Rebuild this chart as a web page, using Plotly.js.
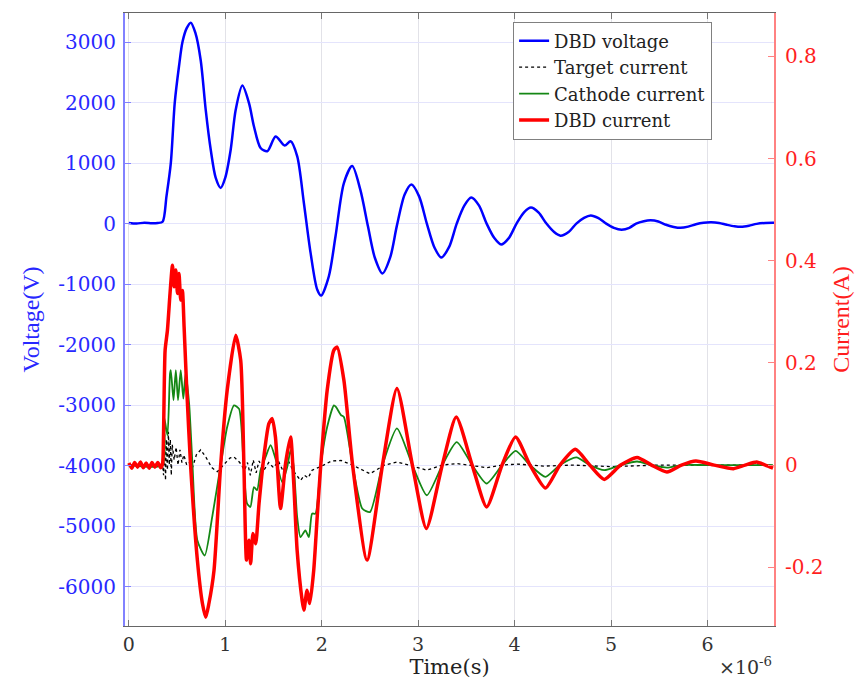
<!DOCTYPE html>
<html>
<head>
<meta charset="utf-8">
<script src="https://cdn.plot.ly/plotly-3.0.1.min.js"></script>
<style>html,body{margin:0;padding:0;background:#fff;}#chart{width:860px;height:679px;}</style>
</head>
<body>
<div id="chart"></div>
<script>
// Time in microseconds (axis shows ×10^-6 s)
const voltage_t = [0,0.08,0.16,0.24,0.3,0.35,0.39,0.435,0.476,0.52,0.556,0.6,0.642,0.69,0.745,0.797,0.849,0.9,0.952,1.0,1.056,1.108,1.177,1.246,1.298,1.366,1.435,1.522,1.615,1.677,1.746,1.815,1.884,1.953,1.994,2.074,2.143,2.23,2.316,2.4,2.48,2.55,2.63,2.71,2.78,2.86,2.93,3.01,3.09,3.17,3.24,3.32,3.40,3.48,3.55,3.63,3.71,3.79,3.86,3.94,4.02,4.10,4.17,4.25,4.33,4.41,4.475,4.56,4.64,4.72,4.79,4.87,4.95,5.03,5.11,5.19,5.26,5.34,5.41,5.49,5.57,5.65,5.72,5.80,5.88,5.96,6.04,6.12,6.20,6.28,6.35,6.43,6.51,6.60,6.69];
const voltage_V = [10,0,15,5,10,30,450,1000,2000,2600,3000,3230,3320,3150,2700,1880,1220,760,590,760,1220,1880,2280,1990,1600,1250,1195,1440,1290,1360,1110,340,-480,-1090,-1190,-870,-210,670,950,560,-50,-560,-825,-560,-30,480,645,450,0,-400,-560,-390,0,300,430,300,0,-240,-345,-240,0,190,265,180,0,-140,-200,-140,0,95,135,90,0,-70,-100,-70,0,40,55,35,-20,-55,-70,-50,-10,15,22,10,-20,-45,-54,-35,-5,10,12];

const target_t = [0,0.2,0.35,0.36,0.37,0.38,0.39,0.40,0.41,0.42,0.43,0.44,0.45,0.47,0.49,0.51,0.53,0.55,0.57,0.6,0.63,0.66,0.7,0.745,0.8,0.86,0.917,0.98,1.05,1.09,1.15,1.2,1.23,1.26,1.29,1.32,1.35,1.4,1.45,1.5,1.55,1.6,1.65,1.7,1.74,1.78,1.82,1.86,1.9,2.0,2.1,2.2,2.32,2.5,2.65,2.78,2.94,3.09,3.25,3.4,3.56,3.71,3.87,4.03,4.3,4.6,5.0,5.5,6.0,6.69];
const target_A = [0,0,0,-0.02,0.06,-0.03,0.05,-0.01,0.065,0.0,0.05,-0.02,0.04,0.01,0.035,0.0,0.03,0.005,0.02,0.0,0.005,-0.005,0.02,0.03,0.015,-0.005,-0.013,0.0,0.014,0.016,0.005,-0.01,0.005,-0.02,0.01,-0.015,0.008,-0.01,0.005,-0.005,0.008,-0.012,0.01,-0.01,-0.02,-0.03,-0.02,-0.025,-0.01,-0.002,0.008,0.009,0,-0.017,0,0.006,-0.002,-0.01,0,0.003,-0.001,-0.005,0,0.002,-0.002,0,-0.003,0,0,0];

const cathode_t = [0,0.349,0.366,0.40,0.427,0.435,0.463,0.487,0.51,0.538,0.565,0.588,0.625,0.66,0.71,0.787,0.865,0.952,1.02,1.09,1.143,1.19,1.225,1.26,1.297,1.33,1.366,1.418,1.47,1.52,1.59,1.642,1.677,1.71,1.745,1.78,1.83,1.867,1.90,1.935,1.99,2.057,2.126,2.147,2.2,2.23,2.32,2.42,2.5,2.63,2.78,2.94,3.09,3.25,3.40,3.56,3.71,3.87,4.01,4.16,4.32,4.47,4.64,4.78,4.93,5.10,5.27,5.42,5.58,5.73,6.0,6.68];
const cathode_A = [0,0,0.094,0.058,0.179,0.186,0.127,0.186,0.127,0.186,0.13,0.179,0.12,0,-0.147,-0.177,-0.101,0,0.075,0.117,0.11,0,-0.075,-0.082,-0.043,-0.049,-0.01,0.016,0.039,0.013,-0.033,-0.004,0.029,-0.004,-0.101,-0.141,-0.128,-0.141,-0.095,-0.095,0,0.075,0.117,0.114,0.098,0.094,0,-0.085,-0.092,0,0.072,0,-0.059,0,0.045,0,-0.036,0,0.028,0,-0.023,0,0.015,0,-0.01,0,0.007,0,-0.005,0,0,0];

const dbd_t = [0,0.03,0.06,0.09,0.12,0.15,0.18,0.21,0.24,0.27,0.30,0.33,0.349,0.359,0.376,0.40,0.427,0.452,0.469,0.487,0.504,0.52,0.538,0.555,0.573,0.60,0.64,0.711,0.763,0.797,0.83,0.883,0.952,1.02,1.108,1.16,1.193,1.22,1.246,1.263,1.287,1.315,1.35,1.40,1.452,1.487,1.52,1.573,1.625,1.677,1.71,1.745,1.797,1.815,1.848,1.876,1.917,1.953,1.99,2.057,2.126,2.16,2.23,2.32,2.47,2.63,2.78,2.94,3.085,3.25,3.395,3.56,3.71,3.87,4.01,4.16,4.32,4.47,4.63,4.78,4.93,5.10,5.27,5.42,5.58,5.73,5.88,6.07,6.27,6.39,6.51,6.60,6.68];
const dbd_A = [0.004,-0.006,0.005,-0.004,0.006,-0.005,0.004,-0.006,0.005,-0.004,0.005,-0.005,0.002,0.055,0.225,0.264,0.336,0.391,0.349,0.382,0.336,0.375,0.323,0.342,0.27,0.15,0.0,-0.187,-0.271,-0.298,-0.271,-0.206,0,0.147,0.254,0.205,0.0,-0.186,-0.147,-0.193,-0.134,-0.154,-0.075,0.016,0.081,0.091,0.055,-0.085,0.003,0.055,-0.036,-0.167,-0.265,-0.284,-0.245,-0.271,-0.206,-0.102,0,0.147,0.225,0.231,0.166,0,-0.186,0,0.150,0,-0.124,0,0.094,0,-0.082,0,0.055,0,-0.045,0,0.031,0.0,-0.028,0,0.015,0,-0.0135,0,0.008,0,-0.007,0,0.006,0,-0.006];

const xTickVals = [0,1,2,3,4,5,6];
const xTickText = ["0","1","2","3","4","5","6"];
const vTickVals = [-6000,-5000,-4000,-3000,-2000,-1000,0,1000,2000,3000];
const vTickText = ["-6000","-5000","-4000","-3000","-2000","-1000","0","1000","2000","3000"];
const iTickVals = [-0.2,0,0.2,0.4,0.6,0.8];
const iTickText = ["-0.2","0","0.2","0.4","0.6","0.8"];

const BLUE = 'rgb(40,40,255)';
const RED = 'rgb(255,30,30)';
const tickFont = 'DejaVu Serif';
const titleFont = 'Liberation Serif';

const traces = [
  {x: voltage_t, y: voltage_V, name: 'DBD voltage', type: 'scatter', mode: 'lines', yaxis: 'y',
   line: {color: '#0000ff', width: 2.5, shape: 'spline', smoothing: 0.8}},
  {x: target_t, y: target_A, name: 'Target current', type: 'scatter', mode: 'lines', yaxis: 'y2',
   line: {color: '#000000', width: 1.3, dash: 'dot'}},
  {x: cathode_t, y: cathode_A, name: 'Cathode current', type: 'scatter', mode: 'lines', yaxis: 'y2',
   line: {color: 'rgb(20,135,20)', width: 1.8, shape: 'spline', smoothing: 0.6}},
  {x: dbd_t, y: dbd_A, name: 'DBD current', type: 'scatter', mode: 'lines', yaxis: 'y2',
   line: {color: '#ff0000', width: 3.5, shape: 'spline', smoothing: 0.6}}
];

const layout = {
  width: 860, height: 679,
  margin: {l: 125, r: 86, t: 13, b: 53},
  paper_bgcolor: '#ffffff', plot_bgcolor: '#ffffff',
  showlegend: true,
  legend: {x: 0.598, y: 0.986, xanchor: 'left', yanchor: 'top', bgcolor: '#ffffff',
           bordercolor: '#808080', borderwidth: 1,
           font: {family: tickFont, size: 18, color: '#222'}},
  xaxis: {range: [-0.04, 6.69], tickvals: xTickVals, ticktext: xTickText,
          ticks: 'inside', ticklen: 6, tickcolor: '#777', showline: true, linecolor: '#666', linewidth: 1.2,
          mirror: 'ticks', showgrid: true, gridcolor: 'rgb(226,226,232)', zeroline: false,
          tickfont: {family: tickFont, size: 19, color: '#333'}, ticklabelstandoff: 1,
          title: {text: 'Time(s)', font: {family: tickFont, size: 21, color: '#222'}, standoff: 2}},
  yaxis: {range: [-6650, 3480], tickvals: vTickVals, ticktext: vTickText,
          ticks: 'inside', ticklen: 6, tickcolor: 'rgb(130,130,255)', showline: true,
          linecolor: 'rgb(130,130,255)', linewidth: 2, showgrid: true, gridcolor: 'rgb(228,228,252)', zeroline: false,
          tickfont: {family: tickFont, size: 20, color: BLUE}, ticklabelstandoff: 3,
          title: {text: 'Voltage(V)', font: {family: titleFont, size: 24, color: BLUE}, standoff: 12}},
  yaxis2: {overlaying: 'y', side: 'right', range: [-0.315, 0.885], tickvals: iTickVals, ticktext: iTickText,
           ticks: 'inside', ticklen: 6, tickcolor: 'rgb(255,130,130)', showline: true,
           linecolor: 'rgb(255,130,130)', linewidth: 2, showgrid: false, zeroline: false,
           tickfont: {family: tickFont, size: 20, color: RED}, ticklabelstandoff: 5,
           title: {text: 'Current(A)', font: {family: titleFont, size: 24, color: RED}, standoff: 10}},
  annotations: [{text: '×10<sup>-6</sup>', xref: 'paper', yref: 'paper', x: 1.0, y: 0,
                 xanchor: 'right', yanchor: 'top', yshift: -26, showarrow: false,
                 font: {family: tickFont, size: 19, color: '#333'}}]
};

Plotly.newPlot('chart', traces, layout, {displayModeBar: false, staticPlot: true});
</script>
</body>
</html>
